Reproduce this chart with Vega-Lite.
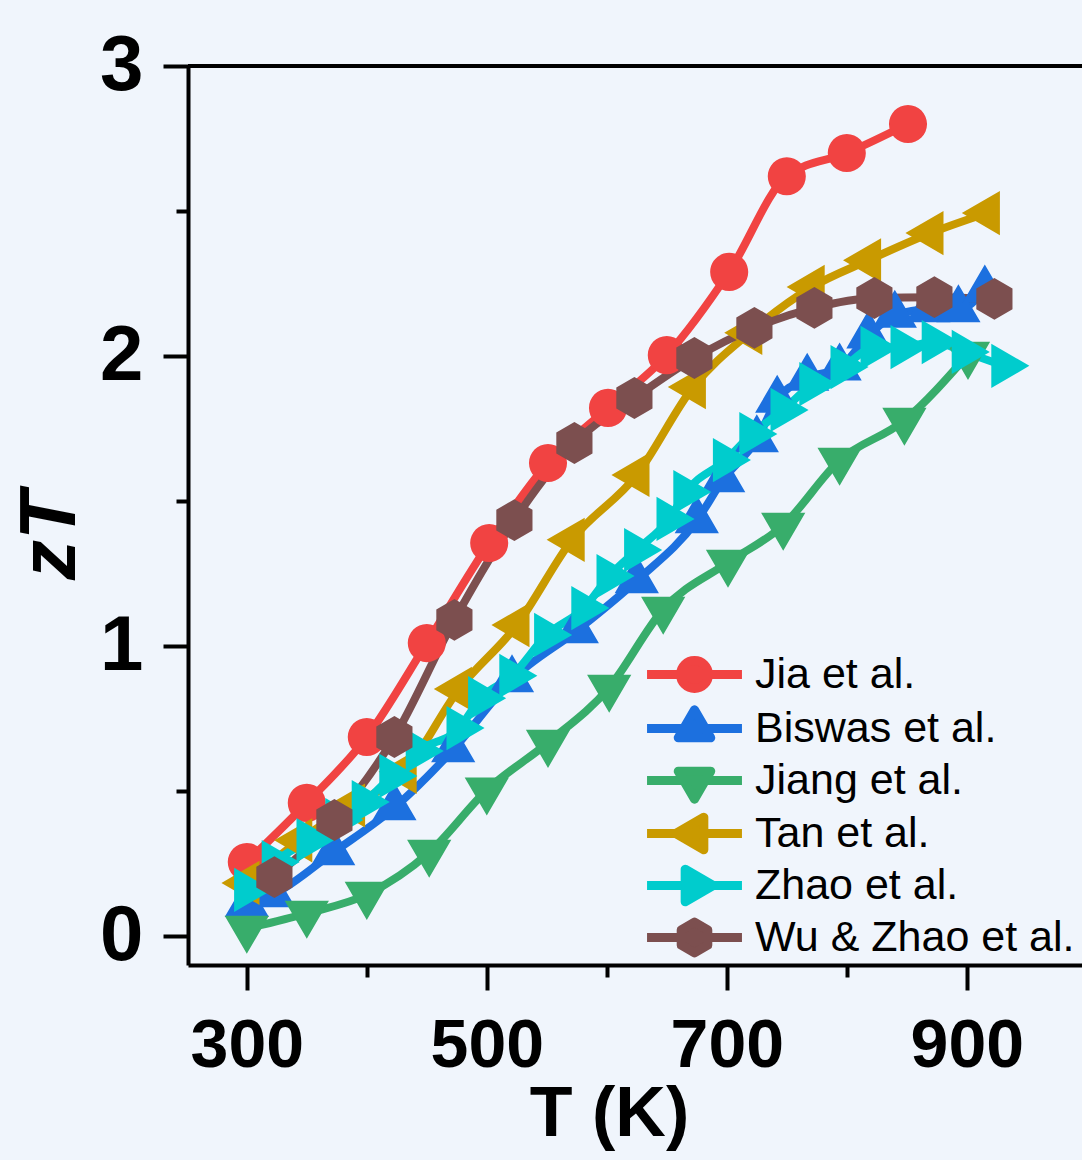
{
  "$schema": "https://vega.github.io/schema/vega-lite/v6.json",
  "width": 894,
  "height": 899,
  "autosize": {"type": "none"},
  "padding": {"left": 188, "top": 66, "right": 0, "bottom": 195},
  "background": "#F0F5FC",
  "config": {"view": {"stroke": null}, "font": "Liberation Sans"},
  "data": {"values": [
    {"s": "Jia et al.", "T": 300, "zT": 0.255},
    {"s": "Jia et al.", "T": 350, "zT": 0.459},
    {"s": "Jia et al.", "T": 400, "zT": 0.686},
    {"s": "Jia et al.", "T": 450, "zT": 1.01},
    {"s": "Jia et al.", "T": 502, "zT": 1.355},
    {"s": "Jia et al.", "T": 551, "zT": 1.631},
    {"s": "Jia et al.", "T": 601, "zT": 1.821},
    {"s": "Jia et al.", "T": 650, "zT": 2.003},
    {"s": "Jia et al.", "T": 702, "zT": 2.29},
    {"s": "Jia et al.", "T": 750, "zT": 2.62},
    {"s": "Jia et al.", "T": 800, "zT": 2.7},
    {"s": "Jia et al.", "T": 851, "zT": 2.8},
    {"s": "Biswas et al.", "T": 300, "zT": 0.109},
    {"s": "Biswas et al.", "T": 322, "zT": 0.143},
    {"s": "Biswas et al.", "T": 372, "zT": 0.288},
    {"s": "Biswas et al.", "T": 423, "zT": 0.443},
    {"s": "Biswas et al.", "T": 472, "zT": 0.643},
    {"s": "Biswas et al.", "T": 521, "zT": 0.884},
    {"s": "Biswas et al.", "T": 575, "zT": 1.053},
    {"s": "Biswas et al.", "T": 625, "zT": 1.226},
    {"s": "Biswas et al.", "T": 675, "zT": 1.433},
    {"s": "Biswas et al.", "T": 697, "zT": 1.574},
    {"s": "Biswas et al.", "T": 725, "zT": 1.712},
    {"s": "Biswas et al.", "T": 742, "zT": 1.848},
    {"s": "Biswas et al.", "T": 767, "zT": 1.924},
    {"s": "Biswas et al.", "T": 794, "zT": 1.959},
    {"s": "Biswas et al.", "T": 818, "zT": 2.07},
    {"s": "Biswas et al.", "T": 840, "zT": 2.141},
    {"s": "Biswas et al.", "T": 868, "zT": 2.16},
    {"s": "Biswas et al.", "T": 893, "zT": 2.16},
    {"s": "Biswas et al.", "T": 915, "zT": 2.228},
    {"s": "Jiang et al.", "T": 300, "zT": 0.026},
    {"s": "Jiang et al.", "T": 350, "zT": 0.078},
    {"s": "Jiang et al.", "T": 400, "zT": 0.143},
    {"s": "Jiang et al.", "T": 452, "zT": 0.288},
    {"s": "Jiang et al.", "T": 500, "zT": 0.503},
    {"s": "Jiang et al.", "T": 551, "zT": 0.667},
    {"s": "Jiang et al.", "T": 602, "zT": 0.857},
    {"s": "Jiang et al.", "T": 647, "zT": 1.126},
    {"s": "Jiang et al.", "T": 701, "zT": 1.288},
    {"s": "Jiang et al.", "T": 747, "zT": 1.416},
    {"s": "Jiang et al.", "T": 794, "zT": 1.64},
    {"s": "Jiang et al.", "T": 848, "zT": 1.778},
    {"s": "Jiang et al.", "T": 901, "zT": 2.005},
    {"s": "Tan et al.", "T": 300, "zT": 0.183},
    {"s": "Tan et al.", "T": 344, "zT": 0.33},
    {"s": "Tan et al.", "T": 388, "zT": 0.45},
    {"s": "Tan et al.", "T": 431, "zT": 0.566},
    {"s": "Tan et al.", "T": 477, "zT": 0.852},
    {"s": "Tan et al.", "T": 525, "zT": 1.072},
    {"s": "Tan et al.", "T": 571, "zT": 1.366},
    {"s": "Tan et al.", "T": 625, "zT": 1.59},
    {"s": "Tan et al.", "T": 672, "zT": 1.893},
    {"s": "Tan et al.", "T": 719, "zT": 2.08},
    {"s": "Tan et al.", "T": 771, "zT": 2.238},
    {"s": "Tan et al.", "T": 818, "zT": 2.33},
    {"s": "Tan et al.", "T": 870, "zT": 2.424},
    {"s": "Tan et al.", "T": 917, "zT": 2.493},
    {"s": "Zhao et al.", "T": 300, "zT": 0.159},
    {"s": "Zhao et al.", "T": 323, "zT": 0.255},
    {"s": "Zhao et al.", "T": 352, "zT": 0.331},
    {"s": "Zhao et al.", "T": 376, "zT": 0.4},
    {"s": "Zhao et al.", "T": 398, "zT": 0.462},
    {"s": "Zhao et al.", "T": 421, "zT": 0.552},
    {"s": "Zhao et al.", "T": 443, "zT": 0.638},
    {"s": "Zhao et al.", "T": 477, "zT": 0.717},
    {"s": "Zhao et al.", "T": 495, "zT": 0.82},
    {"s": "Zhao et al.", "T": 521, "zT": 0.897},
    {"s": "Zhao et al.", "T": 550, "zT": 1.038},
    {"s": "Zhao et al.", "T": 581, "zT": 1.131},
    {"s": "Zhao et al.", "T": 602, "zT": 1.241},
    {"s": "Zhao et al.", "T": 625, "zT": 1.331},
    {"s": "Zhao et al.", "T": 652, "zT": 1.438},
    {"s": "Zhao et al.", "T": 666, "zT": 1.531},
    {"s": "Zhao et al.", "T": 699, "zT": 1.641},
    {"s": "Zhao et al.", "T": 721, "zT": 1.731},
    {"s": "Zhao et al.", "T": 747, "zT": 1.814},
    {"s": "Zhao et al.", "T": 771, "zT": 1.903},
    {"s": "Zhao et al.", "T": 797, "zT": 1.962},
    {"s": "Zhao et al.", "T": 822, "zT": 2.028},
    {"s": "Zhao et al.", "T": 847, "zT": 2.031},
    {"s": "Zhao et al.", "T": 873, "zT": 2.048},
    {"s": "Zhao et al.", "T": 898, "zT": 2.014},
    {"s": "Zhao et al.", "T": 931, "zT": 1.966},
    {"s": "Wu & Zhao et al.", "T": 323, "zT": 0.203},
    {"s": "Wu & Zhao et al.", "T": 373, "zT": 0.4},
    {"s": "Wu & Zhao et al.", "T": 423, "zT": 0.686},
    {"s": "Wu & Zhao et al.", "T": 473, "zT": 1.09},
    {"s": "Wu & Zhao et al.", "T": 523, "zT": 1.434},
    {"s": "Wu & Zhao et al.", "T": 573, "zT": 1.7},
    {"s": "Wu & Zhao et al.", "T": 623, "zT": 1.855},
    {"s": "Wu & Zhao et al.", "T": 673, "zT": 1.993},
    {"s": "Wu & Zhao et al.", "T": 723, "zT": 2.097},
    {"s": "Wu & Zhao et al.", "T": 773, "zT": 2.166},
    {"s": "Wu & Zhao et al.", "T": 823, "zT": 2.2},
    {"s": "Wu & Zhao et al.", "T": 873, "zT": 2.203},
    {"s": "Wu & Zhao et al.", "T": 923, "zT": 2.197}
  ]},
  "layer": [
    {
      "mark": {"type": "rule", "stroke": "black", "strokeWidth": 4},
      "encoding": {"y": {"datum": 3, "type": "quantitative"}}
    },
    {
      "mark": {"type": "line", "strokeWidth": 8, "interpolate": "monotone"},
      "encoding": {
        "x": {"field": "T", "type": "quantitative",
          "scale": {"domain": [251, 996], "nice": false, "zero": false},
          "axis": {
            "title": "T (K)",
            "values": [300, 400, 500, 600, 700, 800, 900],
            "labelExpr": "datum.value % 200 === 100 ? datum.label : ''",
            "tickSize": {"condition": {"test": "datum.value % 200 === 100", "value": 25}, "value": 12},
            "tickWidth": 4, "tickColor": "black",
            "domainColor": "black", "domainWidth": 4,
            "grid": false,
            "labelFont": "Liberation Sans", "labelFontSize": 68, "labelFontWeight": "bold", "labelColor": "black",
            "labelPadding": 22, "labelFlush": false, "labelOverlap": false,
            "titleFont": "Liberation Sans", "titleFontSize": 70, "titleFontWeight": "bold", "titleColor": "black",
            "titleX": 421, "titlePadding": 0
          }
        },
        "y": {"field": "zT", "type": "quantitative",
          "scale": {"domain": [-0.1, 3], "nice": false, "zero": false},
          "axis": {
            "title": "zT",
            "values": [0, 0.5, 1, 1.5, 2, 2.5, 3],
            "labelExpr": "datum.value % 1 === 0 ? format(datum.value, 'd') : ''",
            "tickSize": {"condition": {"test": "datum.value % 1 === 0", "value": 25}, "value": 12},
            "tickWidth": 4, "tickColor": "black",
            "domainColor": "black", "domainWidth": 4,
            "grid": false,
            "labelFont": "Liberation Sans", "labelFontSize": 78, "labelFontWeight": "bold", "labelColor": "black",
            "labelPadding": 20, "labelFlush": false, "labelOverlap": false,
            "titleFont": "Liberation Sans", "titleFontSize": 80, "titleFontWeight": "bold", "titleFontStyle": "italic", "titleColor": "black",
            "titleY": 469, "titlePadding": 8
          }
        },
        "color": {"field": "s", "type": "nominal",
          "scale": {
            "domain": ["Jia et al.", "Biswas et al.", "Jiang et al.", "Tan et al.", "Zhao et al.", "Wu & Zhao et al."],
            "range": ["#F14342", "#1C70DF", "#38AD6B", "#C99A00", "#00CCCD", "#7C4F4F"]
          },
          "legend": {
            "orient": "none", "legendX": 485, "legendY": 587, "title": null,
            "labelFont": "Liberation Sans", "labelFontSize": 43, "labelColor": "black",
            "labelOffset": 39, "rowPadding": 8, "symbolSize": 784, "padding": 0,
            "labelLimit": 600, "symbolOpacity": 1, "symbolStrokeWidth": 9,
            "encode": {"symbols": {"update": {
              "stroke": {"scale": "color", "field": "value"},
              "fill": {"scale": "color", "field": "value"},
              "strokeWidth": {"value": 9},
              "strokeJoin": {"value": "round"},
              "opacity": {"value": 1}
            }}}
          }
        }
      }
    },
    {
      "mark": {"type": "point", "filled": true, "opacity": 1, "size": 1450, "strokeWidth": 0},
      "encoding": {
        "x": {"field": "T", "type": "quantitative"},
        "y": {"field": "zT", "type": "quantitative"},
        "color": {"field": "s", "type": "nominal",
          "legend": {
            "orient": "none", "legendX": 485, "legendY": 587, "title": null,
            "labelFont": "Liberation Sans", "labelFontSize": 43, "labelColor": "black",
            "labelOffset": 39, "rowPadding": 8, "symbolSize": 784, "padding": 0,
            "labelLimit": 600, "symbolOpacity": 1, "symbolStrokeWidth": 9,
            "encode": {"symbols": {"update": {
              "stroke": {"scale": "color", "field": "value"},
              "fill": {"scale": "color", "field": "value"},
              "strokeWidth": {"value": 9},
              "strokeJoin": {"value": "round"},
              "opacity": {"value": 1}
            }}}
          }
        },
        "shape": {"field": "s", "type": "nominal",
          "scale": {
            "domain": ["Jia et al.", "Biswas et al.", "Jiang et al.", "Tan et al.", "Zhao et al.", "Wu & Zhao et al."],
            "range": [
              "M-1,0A1,1,0,1,1,1,0A1,1,0,1,1,-1,0ZM-3.39,0L3.39,0",
              "M0,-1.333L1.162,0.667L-1.162,0.667ZM-3.39,0L3.39,0",
              "M0,1.333L1.162,-0.667L-1.162,-0.667ZM-3.39,0L3.39,0",
              "M-1.333,0L0.667,-1.162L0.667,1.162ZM-3.39,0L3.39,0",
              "M1.333,0L-0.667,-1.162L-0.667,1.162ZM-3.39,0L3.39,0",
              "M0,-1.1L0.95,-0.55L0.95,0.55L0,1.1L-0.95,0.55L-0.95,-0.55ZM-3.39,0L3.39,0"
            ]
          },
          "legend": {
            "orient": "none", "legendX": 485, "legendY": 587, "title": null,
            "labelFont": "Liberation Sans", "labelFontSize": 43, "labelColor": "black",
            "labelOffset": 39, "rowPadding": 8, "symbolSize": 784, "padding": 0,
            "labelLimit": 600, "symbolOpacity": 1, "symbolStrokeWidth": 9,
            "encode": {"symbols": {"update": {
              "stroke": {"scale": "color", "field": "value"},
              "fill": {"scale": "color", "field": "value"},
              "strokeWidth": {"value": 9},
              "strokeJoin": {"value": "round"},
              "opacity": {"value": 1}
            }}}
          }
        }
      }
    }
  ]
}
